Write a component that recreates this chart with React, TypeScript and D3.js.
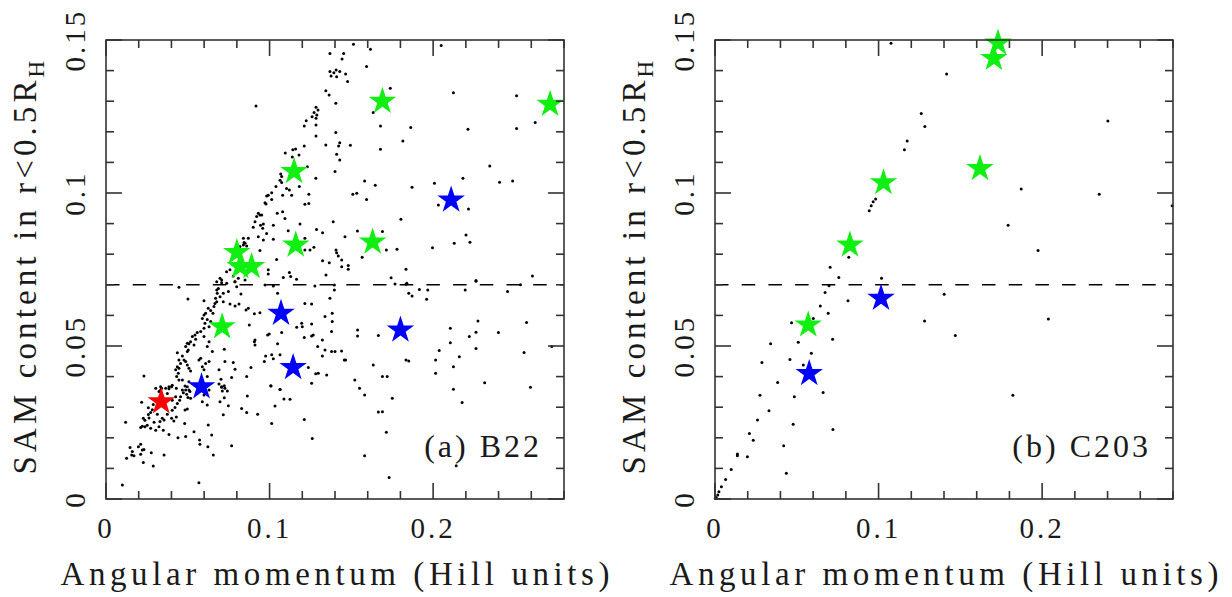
import React from "react";
import * as d3 from "d3";

// Axis ranges and tick labelling shared by both panels
const xDomain: [number, number] = [0, 0.28];
const yDomain: [number, number] = [0, 0.15];
const xMajorTicks = [0, 0.1, 0.2];
const xTickLabels = ["0", "0.1", "0.2"];
const yMajorTicks = [0, 0.05, 0.1, 0.15];
const yTickLabels = ["0", "0.05", "0.1", "0.15"];
const thresholdLevel = 0.07;
const xAxisTitle = "Angular momentum (Hill units)";
const yAxisTitle = "SAM content in r<0.5R";
const yAxisSub = "H";

// Run B22: background particles (angular momentum, SAM content)
const b22UpperDots: [number, number][] = [
  [0.1513, 0.1486], [0.1617, 0.147], [0.2049, 0.1482], [0.1369, 0.1456], [0.1453, 0.1456],
  [0.1443, 0.1438], [0.1593, 0.1413], [0.1369, 0.1397], [0.1407, 0.1402], [0.1393, 0.1393],
  [0.1429, 0.1397], [0.1465, 0.1389], [0.1376, 0.1382], [0.141, 0.138], [0.1477, 0.1364],
  [0.1738, 0.1342], [0.1344, 0.1334], [0.1364, 0.132], [0.2124, 0.1328], [0.251, 0.1318],
  [0.1405, 0.1293], [0.0917, 0.1284], [0.1284, 0.128], [0.1296, 0.1271], [0.1272, 0.1263],
  [0.1289, 0.1255], [0.126, 0.1249], [0.1284, 0.1244], [0.1634, 0.1263], [0.1224, 0.1236],
  [0.1212, 0.1219], [0.1284, 0.1222], [0.1678, 0.1219], [0.1863, 0.1214], [0.2213, 0.1208],
  [0.251, 0.1211], [0.2624, 0.123], [0.1284, 0.1186], [0.1405, 0.1198], [0.1815, 0.117],
  [0.1344, 0.1157], [0.1429, 0.1164], [0.1422, 0.1154], [0.1494, 0.1156], [0.1678, 0.1143],
  [0.141, 0.1127], [0.1429, 0.1108], [0.2346, 0.1088], [0.1581, 0.1039], [0.1646, 0.1025],
  [0.1871, 0.1019], [0.2008, 0.1032], [0.2182, 0.1048], [0.2406, 0.1035], [0.2486, 0.1039],
  [0.1509, 0.0996], [0.1533, 0.0999], [0.1593, 0.0979], [0.1803, 0.0914], [0.1537, 0.0876],
  [0.169, 0.0874], [0.2032, 0.0961], [0.2216, 0.0948], [0.1779, 0.0816], [0.1714, 0.0814],
  [0.1566, 0.079], [0.1996, 0.0821], [0.2129, 0.0836], [0.2201, 0.0863], [0.2225, 0.0839],
  [0.1743, 0.0723], [0.1834, 0.0751], [0.2262, 0.0712], [0.2607, 0.0729], [0.1212, 0.1154],
  [0.1159, 0.1144], [0.1142, 0.1141], [0.118, 0.1124], [0.1096, 0.1131], [0.1139, 0.1118],
  [0.1231, 0.1086], [0.1767, 0.0703], [0.1834, 0.0702],
];

const b22MidDots: [number, number][] = [
  [0.1068, 0.1062], [0.1074, 0.1054], [0.1064, 0.1042], [0.1074, 0.1034], [0.1039, 0.1021],
  [0.1104, 0.1015], [0.1121, 0.101], [0.1182, 0.1021], [0.1135, 0.0993], [0.108, 0.0993],
  [0.1013, 0.1001], [0.0992, 0.0993], [0.0982, 0.099], [0.1013, 0.0979], [0.0972, 0.0968],
  [0.0978, 0.0964], [0.1047, 0.0934], [0.108, 0.0939], [0.1094, 0.0917], [0.0931, 0.0934],
  [0.0941, 0.0928], [0.0921, 0.0923], [0.0952, 0.0928], [0.0911, 0.0906], [0.0945, 0.0895],
  [0.0962, 0.0899], [0.09, 0.0888], [0.0958, 0.0885], [0.1023, 0.0895], [0.0982, 0.0868],
  [0.0931, 0.0857], [0.0962, 0.0846], [0.1023, 0.0849], [0.084, 0.0852], [0.087, 0.0852],
  [0.085, 0.0836], [0.084, 0.083], [0.086, 0.0827], [0.0844, 0.0838], [0.0941, 0.0812],
  [0.1043, 0.0783], [0.1186, 0.0899], [0.1114, 0.0877], [0.124, 0.0996], [0.124, 0.0966],
  [0.1216, 0.0963], [0.1283, 0.1048], [0.14, 0.107], [0.1287, 0.0881], [0.1324, 0.087],
  [0.1389, 0.0906], [0.1461, 0.0857], [0.1216, 0.0852], [0.1216, 0.0814], [0.1247, 0.0814],
  [0.1271, 0.0823], [0.1406, 0.0814], [0.141, 0.0805], [0.142, 0.0794], [0.1441, 0.0781],
  [0.1441, 0.0759], [0.1481, 0.0763], [0.1481, 0.0751], [0.1324, 0.0779], [0.1365, 0.0772],
  [0.1345, 0.0732], [0.1121, 0.074], [0.1084, 0.0724], [0.1129, 0.0727], [0.1165, 0.0718],
  [0.0992, 0.0749], [0.0992, 0.0735], [0.0758, 0.0749], [0.0737, 0.0743], [0.0697, 0.0721],
  [0.0707, 0.0716], [0.0788, 0.071], [0.0809, 0.0721], [0.0778, 0.0729], [0.0819, 0.0825],
  [0.1277, 0.0696],
];

const b22RidgeDots: [number, number][] = [
  [0.0446, 0.0692], [0.0501, 0.0654], [0.0599, 0.0648], [0.0677, 0.0683], [0.068, 0.0672],
  [0.067, 0.0656], [0.0666, 0.0639], [0.066, 0.0629], [0.0654, 0.0607], [0.064, 0.0616],
  [0.0625, 0.0623], [0.0609, 0.0607], [0.0599, 0.0601], [0.0589, 0.059], [0.0619, 0.0587],
  [0.064, 0.058], [0.0605, 0.0574], [0.063, 0.0563], [0.0599, 0.0558], [0.0579, 0.0547],
  [0.0558, 0.0544], [0.0544, 0.0536], [0.0528, 0.0531], [0.0548, 0.0522], [0.0517, 0.0514],
  [0.0507, 0.0507], [0.0497, 0.0509], [0.0487, 0.0498], [0.0503, 0.0487], [0.0497, 0.0482],
  [0.0538, 0.0503], [0.0599, 0.0531], [0.063, 0.0514], [0.0619, 0.0498], [0.065, 0.0482],
  [0.0579, 0.046], [0.0568, 0.0454], [0.063, 0.0449], [0.0609, 0.0443], [0.0599, 0.0422],
  [0.0619, 0.04], [0.0589, 0.0432], [0.0436, 0.0478], [0.0446, 0.0454], [0.0456, 0.0443],
  [0.0436, 0.0432], [0.0426, 0.0422], [0.0446, 0.0427], [0.0442, 0.0411], [0.0432, 0.04],
  [0.0467, 0.0467], [0.0477, 0.0454], [0.0487, 0.0449], [0.0497, 0.0438], [0.0507, 0.0427],
  [0.0517, 0.0418], [0.0507, 0.0383], [0.0467, 0.0389], [0.0405, 0.0372], [0.0385, 0.0367],
  [0.0365, 0.0362], [0.034, 0.0362], [0.0334, 0.0356], [0.0232, 0.0402], [0.0446, 0.0389],
];

const b22CoreDots: [number, number][] = [
  [0.0677, 0.071], [0.0707, 0.0707], [0.0738, 0.0705], [0.0789, 0.071], [0.0799, 0.0694],
  [0.085, 0.0716], [0.0972, 0.0699], [0.1023, 0.0696], [0.1049, 0.0672], [0.1216, 0.0639],
  [0.1257, 0.0637], [0.1369, 0.0656], [0.1396, 0.0699], [0.1396, 0.0683], [0.0687, 0.0688],
  [0.0717, 0.0672], [0.0748, 0.0678], [0.0697, 0.0661], [0.0677, 0.0645], [0.0717, 0.0645],
  [0.0758, 0.0637], [0.0789, 0.0631], [0.0813, 0.0637], [0.0825, 0.067], [0.0856, 0.0618],
  [0.087, 0.0623], [0.0907, 0.0605], [0.0941, 0.0609], [0.0876, 0.0569], [0.0907, 0.0514],
  [0.0911, 0.052], [0.0988, 0.0536], [0.0998, 0.0539], [0.1074, 0.0544], [0.1049, 0.0507],
  [0.1166, 0.0561], [0.1196, 0.0574], [0.12, 0.0563], [0.1257, 0.0572], [0.1212, 0.0528],
  [0.1257, 0.0533], [0.1267, 0.0536], [0.1323, 0.052], [0.1294, 0.0498], [0.1339, 0.0487],
  [0.1379, 0.0482], [0.14, 0.0482], [0.144, 0.0484], [0.1457, 0.0454], [0.1379, 0.0547],
  [0.1383, 0.058], [0.1339, 0.0596], [0.1383, 0.0607], [0.0723, 0.0489], [0.0727, 0.0449],
  [0.0778, 0.0446], [0.0789, 0.0424], [0.0768, 0.0397], [0.0703, 0.0391], [0.0691, 0.0422],
  [0.0691, 0.0376], [0.0707, 0.0365], [0.0727, 0.0362], [0.086, 0.04], [0.0886, 0.043],
  [0.0968, 0.0449], [0.1013, 0.0471], [0.1023, 0.0458], [0.1064, 0.0471], [0.0976, 0.0467],
  [0.1237, 0.043], [0.1282, 0.0409], [0.1298, 0.0411], [0.1349, 0.0405], [0.1323, 0.0467],
  [0.1257, 0.0378], [0.1009, 0.0369], [0.1064, 0.0358], [0.0911, 0.0503],
];

const b22LowDots: [number, number][] = [
  [0.01, 0.0046], [0.012, 0.0251], [0.0126, 0.0133], [0.0147, 0.0168], [0.0157, 0.0144],
  [0.0171, 0.0141], [0.0161, 0.0155], [0.0198, 0.0171], [0.0212, 0.0179], [0.0222, 0.016],
  [0.0232, 0.0162], [0.0212, 0.0146], [0.0228, 0.0119], [0.0277, 0.0151], [0.0289, 0.0108],
  [0.0355, 0.0144], [0.0218, 0.0316], [0.0212, 0.0234], [0.0222, 0.0238], [0.0238, 0.0236],
  [0.0252, 0.0241], [0.0238, 0.0257], [0.0263, 0.0265], [0.0259, 0.0276], [0.0273, 0.0283],
  [0.0283, 0.0292], [0.0259, 0.0298], [0.0289, 0.0309], [0.0304, 0.0225], [0.0324, 0.0236],
  [0.033, 0.0253], [0.0344, 0.0264], [0.0355, 0.0258], [0.035, 0.0225], [0.0375, 0.0277],
  [0.0385, 0.0211], [0.0401, 0.0264], [0.0415, 0.0255], [0.043, 0.0268], [0.0405, 0.029],
  [0.0422, 0.0299], [0.0436, 0.0312], [0.045, 0.0323], [0.0426, 0.0334], [0.0405, 0.0323],
  [0.044, 0.02], [0.0456, 0.0334], [0.0473, 0.0347], [0.0487, 0.0356], [0.0483, 0.0369],
  [0.0497, 0.0367], [0.0507, 0.0356], [0.0483, 0.0291], [0.0497, 0.0294], [0.0481, 0.0247],
  [0.0487, 0.0204], [0.0501, 0.0332], [0.0517, 0.0329], [0.0538, 0.022], [0.0572, 0.0193],
  [0.0574, 0.0179], [0.0568, 0.0053], [0.0625, 0.0242], [0.0646, 0.0209], [0.0623, 0.0171],
  [0.0656, 0.0144], [0.0304, 0.0362], [0.0324, 0.0351], [0.0334, 0.0367], [0.0385, 0.036],
  [0.0375, 0.0345], [0.0401, 0.0367], [0.043, 0.0362], [0.0467, 0.0356], [0.0513, 0.0351],
  [0.0493, 0.0342], [0.0599, 0.034], [0.063, 0.0356], [0.0589, 0.0318], [0.0619, 0.0307],
  [0.0228, 0.0264], [0.0314, 0.0277], [0.0294, 0.0251], [0.0273, 0.0231],
  [0.0707, 0.0367], [0.0723, 0.037], [0.0711, 0.0353], [0.0742, 0.0353], [0.0723, 0.0331],
  [0.0697, 0.0318], [0.0748, 0.0305], [0.0717, 0.0275], [0.0864, 0.0337], [0.0829, 0.0296],
  [0.086, 0.0283], [0.0927, 0.0277], [0.1007, 0.037], [0.1064, 0.0358], [0.1088, 0.0327],
  [0.1125, 0.0326], [0.1033, 0.0304], [0.1013, 0.0247], [0.1212, 0.026], [0.1261, 0.0198],
  [0.0768, 0.0174],
];

const b22OuterDots: [number, number][] = [
  [0.1521, 0.0389], [0.155, 0.0362], [0.1581, 0.034], [0.1634, 0.0438], [0.169, 0.04],
  [0.1719, 0.04], [0.1834, 0.0454], [0.1851, 0.0451], [0.2015, 0.0454], [0.2015, 0.0411],
  [0.2124, 0.0432], [0.2124, 0.0359], [0.2177, 0.0315], [0.2315, 0.038], [0.2595, 0.0365],
  [0.175, 0.0329], [0.169, 0.0285], [0.1665, 0.0284], [0.1714, 0.0218], [0.1581, 0.0141],
  [0.1731, 0.007], [0.2141, 0.0109], [0.2105, 0.0558], [0.2105, 0.0511], [0.2221, 0.0531],
  [0.2262, 0.0545], [0.2274, 0.0582], [0.2399, 0.0544], [0.2571, 0.0577], [0.2725, 0.0498],
  [0.2037, 0.0485], [0.216, 0.0465], [0.2262, 0.0492], [0.2556, 0.0479], [0.1839, 0.0705],
  [0.1851, 0.0672], [0.1871, 0.0663], [0.1916, 0.0685], [0.1967, 0.0683], [0.196, 0.0653],
  [0.2196, 0.0683], [0.2262, 0.0714], [0.2455, 0.0678], [0.2534, 0.07], [0.1538, 0.0552],
  [0.1538, 0.0533], [0.1665, 0.0534], [0.1465, 0.0454],
];

// Run B22: highlighted objects
const b22GreenStars: [number, number][] = [
  [0.169, 0.13], [0.2715, 0.129], [0.115, 0.107], [0.116, 0.083], [0.163, 0.084],
  [0.08, 0.0806], [0.082, 0.076], [0.089, 0.076], [0.071, 0.0563],
];
const b22BlueStars: [number, number][] = [
  [0.211, 0.0977], [0.107, 0.0607], [0.18, 0.0552], [0.1144, 0.043], [0.0584, 0.0367],
];
const b22RedStars: [number, number][] = [[0.0338, 0.0318]];

// Run C203: background particles
const c203Dots: [number, number][] = [
  [0.1076, 0.1489], [0.1416, 0.1389], [0.2402, 0.1235], [0.1261, 0.126], [0.1283, 0.1217],
  [0.1175, 0.117], [0.1158, 0.1141], [0.1872, 0.1013], [0.2349, 0.0996], [0.2795, 0.0958],
  [0.0982, 0.098], [0.0967, 0.0971], [0.0955, 0.0958], [0.0943, 0.0942], [0.1792, 0.0895],
  [0.1975, 0.0812], [0.0818, 0.079], [0.0704, 0.0757], [0.0757, 0.0724], [0.1018, 0.0721],
  [0.0697, 0.0697], [0.0673, 0.0675], [0.1401, 0.0669], [0.0813, 0.0648], [0.0644, 0.0631],
  [0.0692, 0.0607], [0.0468, 0.0576], [0.0601, 0.059], [0.1281, 0.0582], [0.2038, 0.0588],
  [0.0509, 0.0512], [0.034, 0.0507], [0.0719, 0.0522], [0.1469, 0.0534], [0.0589, 0.0476],
  [0.0458, 0.0456], [0.0287, 0.0446], [0.054, 0.0438], [0.0383, 0.0381], [0.0275, 0.0339],
  [0.0485, 0.0334], [0.0661, 0.0348], [0.1821, 0.0339], [0.033, 0.0288], [0.026, 0.0258],
  [0.0478, 0.0244], [0.0721, 0.0227], [0.021, 0.0214], [0.0234, 0.0192], [0.042, 0.0174],
  [0.0137, 0.0147], [0.0137, 0.0141], [0.0198, 0.0138], [0.0099, 0.0096], [0.0436, 0.0084],
  [0.0065, 0.0064], [0.0039, 0.004], [0.0024, 0.0024], [0.0017, 0.0013], [0.0007, 0.0005],
  [0.0002, 0.0002],
];
const c203GreenStars: [number, number][] = [
  [0.173, 0.149], [0.1705, 0.144], [0.162, 0.108], [0.103, 0.1034], [0.0825, 0.083], [0.057, 0.0569],
];
const c203BlueStars: [number, number][] = [[0.1015, 0.0656], [0.0576, 0.041]];
const c203RedStars: [number, number][] = [];

const panelLabels = ["(a) B22", "(b) C203"];

const W = 1232;
const H = 597;
const plotW = 458;
const plotTop = 40;
const plotBottom = 499;
const panelLefts = [106, 715];

const FONT = "'Liberation Serif', 'DejaVu Serif', serif";
const INK = "#1a1a1a";
const FRAME = "#333";

const starPath = d3.symbol(d3.symbolStar, 235)() as string;

type Pt = [number, number];

function Panel({
  left,
  dots,
  green,
  blue,
  red,
  label,
}: {
  left: number;
  dots: Pt[];
  green: Pt[];
  blue: Pt[];
  red: Pt[];
  label: string;
}) {
  const x = d3.scaleLinear().domain(xDomain).range([left, left + plotW]);
  const y = d3.scaleLinear().domain(yDomain).range([plotBottom, plotTop]);
  const right = left + plotW;
  const xMinor = d3.range(0, 0.2801, 0.02);
  const yMinor = d3.range(0, 0.1501, 0.01);
  const isMajorX = (v: number) => xMajorTicks.some((m) => Math.abs(m - v) < 1e-6);
  const isMajorY = (v: number) => yMajorTicks.some((m) => Math.abs(m - v) < 1e-6);
  const minorLen = 8;
  const majorLen = 16;
  const cx = (left + right) / 2;
  const cy = (plotTop + plotBottom) / 2;

  return (
    <g>
      {/* horizontal reference level */}
      <line
        x1={x(xDomain[0])}
        x2={x(xDomain[1])}
        y1={y(thresholdLevel)}
        y2={y(thresholdLevel)}
        stroke="#000"
        strokeWidth={1.5}
        strokeDasharray="13.5 13.2"
      />
      {/* particles */}
      {dots.map((d, i) => (
        <circle key={"d" + i} cx={x(d[0])} cy={y(d[1])} r={1.5} fill="#000" />
      ))}
      {green.map((d, i) => (
        <path key={"g" + i} d={starPath} transform={`translate(${x(d[0])},${y(d[1])})`} fill="#11ee11" />
      ))}
      {blue.map((d, i) => (
        <path key={"b" + i} d={starPath} transform={`translate(${x(d[0])},${y(d[1])})`} fill="#0000ff" />
      ))}
      {red.map((d, i) => (
        <path key={"r" + i} d={starPath} transform={`translate(${x(d[0])},${y(d[1])})`} fill="#ff0000" />
      ))}
      {/* frame */}
      <rect
        x={left}
        y={plotTop}
        width={plotW}
        height={plotBottom - plotTop}
        fill="none"
        stroke={FRAME}
        strokeWidth={1.6}
      />
      {xMinor.map((v, i) => {
        const len = isMajorX(v) ? majorLen : minorLen;
        const px = x(v);
        return (
          <g key={"xt" + i}>
            <line x1={px} x2={px} y1={plotBottom} y2={plotBottom - len} stroke={FRAME} strokeWidth={1.6} />
            <line x1={px} x2={px} y1={plotTop} y2={plotTop + len} stroke={FRAME} strokeWidth={1.6} />
          </g>
        );
      })}
      {yMinor.map((v, i) => {
        const len = isMajorY(v) ? majorLen : minorLen;
        const py = y(v);
        return (
          <g key={"yt" + i}>
            <line x1={left} x2={left + len} y1={py} y2={py} stroke={FRAME} strokeWidth={1.6} />
            <line x1={right} x2={right - len} y1={py} y2={py} stroke={FRAME} strokeWidth={1.6} />
          </g>
        );
      })}
      {/* tick labels */}
      {xMajorTicks.map((v, i) => (
        <text
          key={"xl" + i}
          x={x(v)}
          y={538}
          textAnchor="middle"
          fontFamily={FONT}
          fontSize={29}
          letterSpacing={3}
          fill={INK}
        >
          {xTickLabels[i]}
        </text>
      ))}
      {yMajorTicks.map((v, i) => (
        <text
          key={"yl" + i}
          transform={`translate(${left - 21},${y(v)}) rotate(-90)`}
          textAnchor="middle"
          fontFamily={FONT}
          fontSize={29}
          letterSpacing={3}
          fill={INK}
        >
          {yTickLabels[i]}
        </text>
      ))}
      {/* axis titles */}
      <text
        x={cx}
        y={585}
        textAnchor="middle"
        fontFamily={FONT}
        fontSize={33}
        textLength={549}
        lengthAdjust="spacing"
        fill={INK}
      >
        {xAxisTitle}
      </text>
      <g transform={`translate(${left - 70},${cy}) rotate(-90)`}>
        <text
          x={-205}
          y={0}
          fontFamily={FONT}
          fontSize={33}
          textLength={394}
          lengthAdjust="spacing"
          fill={INK}
        >
          {yAxisTitle}
        </text>
        <text x={192} y={8} fontFamily={FONT} fontSize={23} fill={INK}>
          {yAxisSub}
        </text>
      </g>
      {/* panel tag */}
      <text
        x={right - 22}
        y={457}
        textAnchor="end"
        fontFamily={FONT}
        fontSize={32}
        letterSpacing={3}
        fill={INK}
      >
        {label}
      </text>
    </g>
  );
}

export default function App() {
  const b22Dots = [
    ...b22UpperDots,
    ...b22MidDots,
    ...b22RidgeDots,
    ...b22CoreDots,
    ...b22LowDots,
    ...b22OuterDots,
  ];
  return (
    <svg
      width={W}
      height={H}
      viewBox={`0 0 ${W} ${H}`}
      style={{ position: "absolute", left: 0, top: 0, background: "#fff" }}
    >
      <rect x={0} y={0} width={W} height={H} fill="#fff" />
      <Panel
        left={panelLefts[0]}
        dots={b22Dots}
        green={b22GreenStars}
        blue={b22BlueStars}
        red={b22RedStars}
        label={panelLabels[0]}
      />
      <Panel
        left={panelLefts[1]}
        dots={c203Dots}
        green={c203GreenStars}
        blue={c203BlueStars}
        red={c203RedStars}
        label={panelLabels[1]}
      />
    </svg>
  );
}
